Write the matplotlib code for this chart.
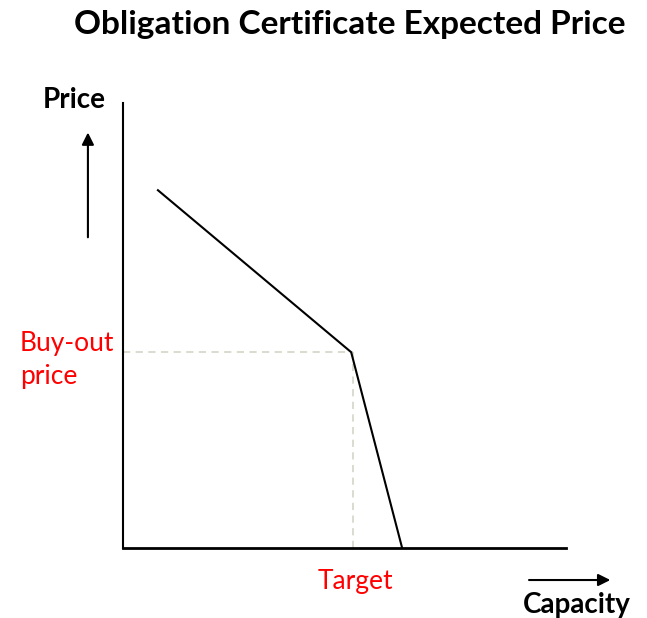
import matplotlib.pyplot as plt

# --- data (schematic, axis units 0-100) ---
curve_x = [7.9, 51.5, 63.0]
curve_y = [80.4, 44.0, 0.0]
buyout_price = 44.0
target_capacity = 51.9

plt.rcParams.update({
    "font.family": ["Lato", "DejaVu Sans"],
})

fig = plt.figure(figsize=(6.47, 6.18), dpi=100)
ax = fig.add_axes([0.190, 0.1133, 0.685, 0.720])

ax.plot(curve_x, curve_y, color="black", linewidth=1.5, zorder=3)

# reference lines for buy-out price / target
ax.plot([0, target_capacity], [buyout_price, buyout_price],
        color="#d8d8cc", linestyle=(0, (4, 3)), linewidth=1.3, zorder=2)
ax.plot([target_capacity, target_capacity], [0, buyout_price],
        color="#d8d8cc", linestyle=(0, (4, 3)), linewidth=1.3, zorder=2)

ax.set_xlim(0, 100)
ax.set_ylim(0, 100)
ax.spines["top"].set_visible(False)
ax.spines["right"].set_visible(False)
ax.spines["left"].set_linewidth(1.5)
ax.spines["bottom"].set_linewidth(2.0)
ax.set_xticks([])
ax.set_yticks([])

# labels
ax.text(-23.3, buyout_price - 1.8, "Buy-out\nprice", color="red", fontsize=19,
        ha="left", va="center", linespacing=1.4, clip_on=False)
ax.text(52.5, -7.5, "Target", color="red", fontsize=19,
        ha="center", va="center", clip_on=False)
ax.text(-11.0, 100.6, "Price", fontsize=20, fontweight="bold",
        ha="center", va="center", clip_on=False)
ax.text(102.3, -12.8, "Capacity", fontsize=20, fontweight="bold",
        ha="center", va="center", clip_on=False)

# direction arrows
ax.annotate("", xy=(-7.9, 94.0), xytext=(-7.9, 69.2),
            arrowprops=dict(arrowstyle="-|>", color="black", lw=1.5,
                            mutation_scale=18),
            annotation_clip=False)
ax.annotate("", xy=(110.6, -7.2), xytext=(91.0, -7.2),
            arrowprops=dict(arrowstyle="-|>", color="black", lw=1.5,
                            mutation_scale=18),
            annotation_clip=False)

fig.text(0.541, 0.961, "Obligation Certificate Expected Price",
         fontsize=24, fontweight="bold", ha="center", va="center")

fig.savefig("out.png", dpi=100)
